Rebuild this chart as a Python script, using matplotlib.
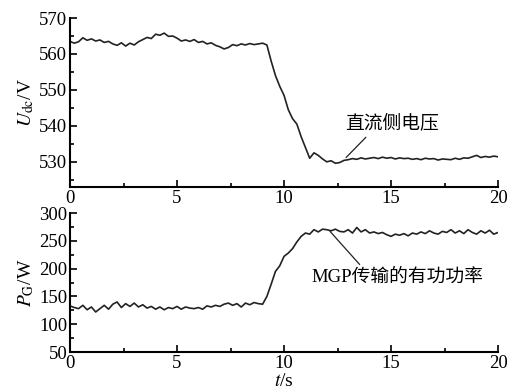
import numpy as np
import matplotlib
matplotlib.use("Agg")
import matplotlib.pyplot as plt
from matplotlib.ticker import MultipleLocator

plt.rcParams['font.family'] = ['Liberation Serif', 'Noto Sans CJK SC']
plt.rcParams['mathtext.fontset'] = 'stix'

t = np.linspace(0, 20, 101)

# DC-side voltage (V), sampled every 0.2 s
udc = [563.5, 563.0, 563.4, 564.5, 563.8, 564.2, 563.6, 563.9, 563.2, 563.5, 562.8,
       562.4, 563.1, 562.2, 563.0, 562.5, 563.4, 564.0, 564.6, 564.3, 565.5,
       565.2, 565.8, 564.9, 565.0, 564.4, 563.6, 563.9, 563.5, 564.0, 563.2,
       563.5, 562.8, 563.1, 562.4, 562.0, 561.4, 561.8, 562.6, 562.3, 562.8,
       562.5, 562.9, 562.6, 562.8, 563.0, 562.5, 558.0, 554.0, 551.0, 548.5,
       544.5, 542.0, 540.5, 537.0, 534.0, 531.0, 532.5, 531.8, 530.8, 530.0,
       530.3, 529.6, 529.8, 530.4, 530.6, 530.9, 530.7, 531.1, 530.8, 531.0,
       531.2, 530.9, 531.3, 531.0, 531.2, 530.8, 531.1, 530.9, 531.0, 530.7,
       530.9, 530.6, 531.0, 530.8, 530.9, 530.5, 530.8, 530.7, 530.6, 531.0,
       530.7, 531.1, 531.0, 531.4, 531.8, 531.2, 531.5, 531.3, 531.6, 531.4]

# active power transmitted by MGP (W)
pg = [133, 130, 128, 134, 126, 131, 122, 128, 134, 127, 136,
      140, 130, 137, 132, 138, 131, 135, 129, 132, 127,
      131, 126, 130, 128, 132, 127, 131, 129, 128, 130,
      127, 133, 131, 134, 132, 136, 138, 134, 137, 131,
      138, 135, 139, 137, 136, 150, 172, 195, 205, 222,
      228, 236, 248, 258, 264, 262, 270, 266, 271, 270,
      268, 271, 267, 266, 270, 264, 274, 266, 270, 264,
      266, 263, 265, 261, 258, 262, 260, 263, 259, 264,
      262, 266, 263, 268, 264, 262, 267, 265, 270, 264,
      268, 263, 270, 265, 262, 268, 264, 269, 262, 265]

fig = plt.figure(figsize=(5.11, 3.9), dpi=100)
ax1 = fig.add_axes([0.137, 0.5205, 0.8376, 0.4333])
ax2 = fig.add_axes([0.137, 0.0974, 0.8376, 0.3564])

lc = '#222222'
ax1.plot(t, udc, color=lc, lw=1.2)
ax2.plot(t, pg, color=lc, lw=1.2)

ax1.set_xlim(0, 20)
ax1.set_ylim(523, 570)
ax1.set_yticks([530, 540, 550, 560, 570])
ax1.yaxis.set_minor_locator(MultipleLocator(5))
ax2.set_xlim(0, 20)
ax2.set_ylim(50, 300)
ax2.set_yticks([50, 100, 150, 200, 250, 300])
ax2.yaxis.set_minor_locator(MultipleLocator(25))

for ax in (ax1, ax2):
    ax.set_xticks([0, 5, 10, 15, 20])
    ax.xaxis.set_minor_locator(MultipleLocator(2.5))
    ax.spines['top'].set_visible(False)
    ax.spines['right'].set_visible(False)
    ax.spines['left'].set_linewidth(1.5)
    ax.spines['bottom'].set_linewidth(1.5)
    ax.tick_params(which='both', direction='in', width=1.2, labelsize=13.5, pad=2)
    ax.tick_params(which='major', length=5)
    ax.tick_params(which='minor', length=3)

ax1.set_ylabel(r'$U_{\mathrm{dc}}$/V', fontsize=14, labelpad=2)
ax2.set_ylabel(r'$P_{\mathrm{G}}$/W', fontsize=14, labelpad=2)
ax2.set_xlabel(r'$t$/s', fontsize=14, labelpad=1)

ax1.annotate('直流侧电压', xy=(12.9, 531.2), xytext=(15.05, 540.8),
             fontsize=13.5, ha='center', va='center', family=['Noto Sans CJK SC'],
             arrowprops=dict(arrowstyle='-', color=lc, lw=0.9, shrinkA=1, shrinkB=0,
                             relpos=(0.26, 0)))
ax2.annotate('MGP传输的有功功率', xy=(12.15, 267), xytext=(15.3, 185),
             fontsize=13.5, ha='center', va='center',
             family=['Liberation Serif', 'Noto Sans CJK SC'],
             arrowprops=dict(arrowstyle='-', color=lc, lw=0.9, shrinkA=1, shrinkB=0,
                             relpos=(0.3, 1)))

fig.savefig('out.png', dpi=100)
